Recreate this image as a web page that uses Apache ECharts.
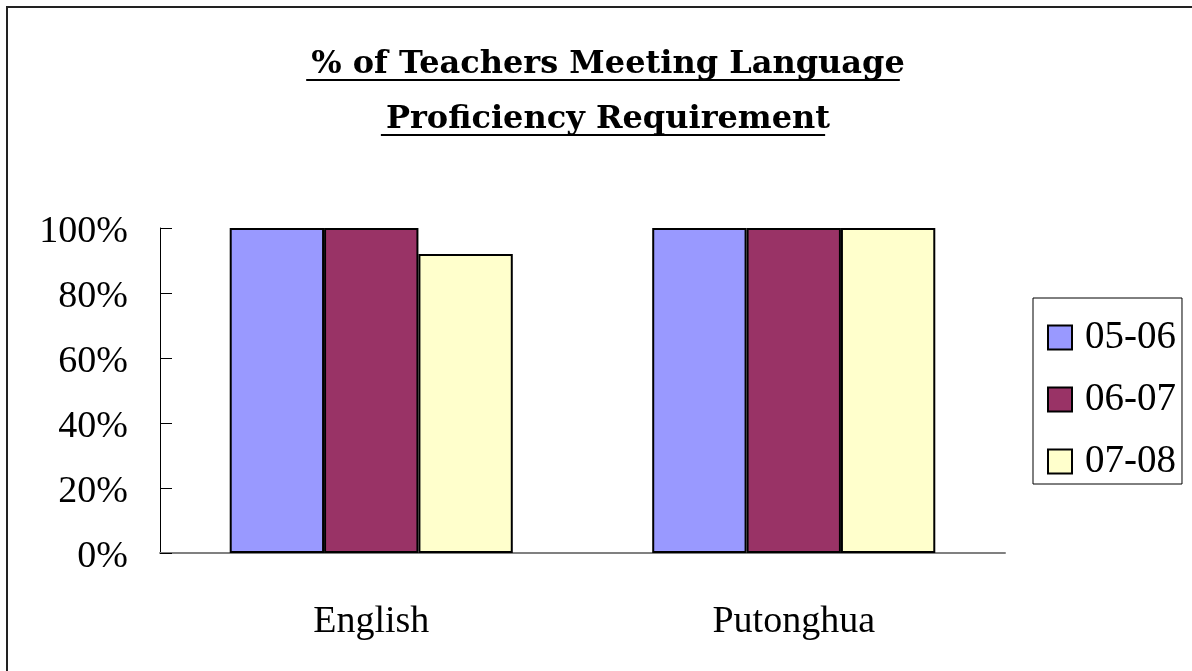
<!DOCTYPE html>
<html>
<head>
<meta charset="UTF-8">
<title>Language Proficiency</title>
<script src="https://cdn.jsdelivr.net/npm/echarts@6/dist/echarts.min.js"></script>
<style>
  html, body { margin: 0; padding: 0; background: #fff; }
  #main { width: 1192px; height: 671px; }
</style>
</head>
<body>
<div id="main"></div>
<script>
// data
var categories = ['English', 'Putonghua'];
var years = ['05-06', '06-07', '07-08'];
var s0506 = [100, 100];
var s0607 = [100, 100];
var s0708 = [92, 100];
var yTicks = [0, 20, 40, 60, 80, 100];
var titleLines = ['% of Teachers Meeting Language', 'Proficiency Requirement'];

var FONT = '"Liberation Serif", "DejaVu Serif", serif';
var TFONT = '"DejaVu Serif", serif';
var colors = ['#9999FF', '#993366', '#FFFFCC'];

var myChart = echarts.init(document.getElementById('main'));

// underline for the title (echarts text has no underline)
var ctx = document.createElement('canvas').getContext('2d');
ctx.font = '600 32px ' + TFONT;
var titleCx = 603;
var underlines = titleLines.map(function (t, i) {
    var w = ctx.measureText(t).width;
    var y = 80 + i * 55;
    return {
        type: 'line',
        shape: { x1: titleCx - w / 2, y1: y, x2: titleCx + w / 2, y2: y },
        style: { stroke: '#000', lineWidth: 2 }
    };
});

function barSeries(name, data, i) {
    return {
        name: name,
        type: 'bar',
        data: data,
        barGap: '0%',
        barCategoryGap: '33%',
        itemStyle: { color: colors[i], borderColor: '#000', borderWidth: 2 }
    };
}

var option = {
    backgroundColor: '#fff',
    animation: false,
    textStyle: { fontFamily: FONT },
    title: {
        text: titleLines.join('\n'),
        left: titleCx,
        top: 32,
        textAlign: 'center',
        textStyle: { fontFamily: TFONT, fontSize: 32, fontWeight: 600, color: '#000', lineHeight: 55 }
    },
    legend: {
        orient: 'vertical',
        left: 1033,
        top: 298,
        padding: [20, 6, 3, 14],
        itemGap: 23,
        itemWidth: 24,
        itemHeight: 24,
        icon: 'rect',
        borderColor: '#000',
        borderWidth: 1,
        data: years,
        textStyle: { fontFamily: FONT, fontSize: 39, lineHeight: 36, color: '#000', padding: [0, 0, 0, 8] }
    },
    grid: { left: 160, top: 228, right: 187, bottom: 118, containLabel: false },
    xAxis: {
        type: 'category',
        data: categories,
        axisLine: { lineStyle: { color: '#808080', width: 2 } },
        axisTick: { inside: true, length: 12, lineStyle: { color: '#808080', width: 2 } },
        axisLabel: { fontFamily: FONT, fontSize: 38, color: '#000', margin: 50 }
    },
    yAxis: {
        type: 'value',
        min: yTicks[0],
        max: yTicks[yTicks.length - 1],
        interval: yTicks[1] - yTicks[0],
        splitLine: { show: false },
        axisLine: { show: true, lineStyle: { color: '#000', width: 1 } },
        axisTick: { show: true, inside: true, length: 12, lineStyle: { color: '#000' } },
        axisLabel: {
            margin: 32,
            formatter: '{v|{value}%}',
            rich: { v: { fontFamily: FONT, fontSize: 38, color: '#000', padding: [8, 0, 0, 0] } }
        }
    },
    graphic: [
        {
            type: 'rect',
            shape: { x: 7, y: 7, width: 1200, height: 700 },
            style: { fill: 'none', stroke: '#222', lineWidth: 2 }
        }
    ].concat(underlines),
    series: [
        barSeries(years[0], s0506, 0),
        barSeries(years[1], s0607, 1),
        barSeries(years[2], s0708, 2)
    ]
};

myChart.setOption(option);
</script>
</body>
</html>
